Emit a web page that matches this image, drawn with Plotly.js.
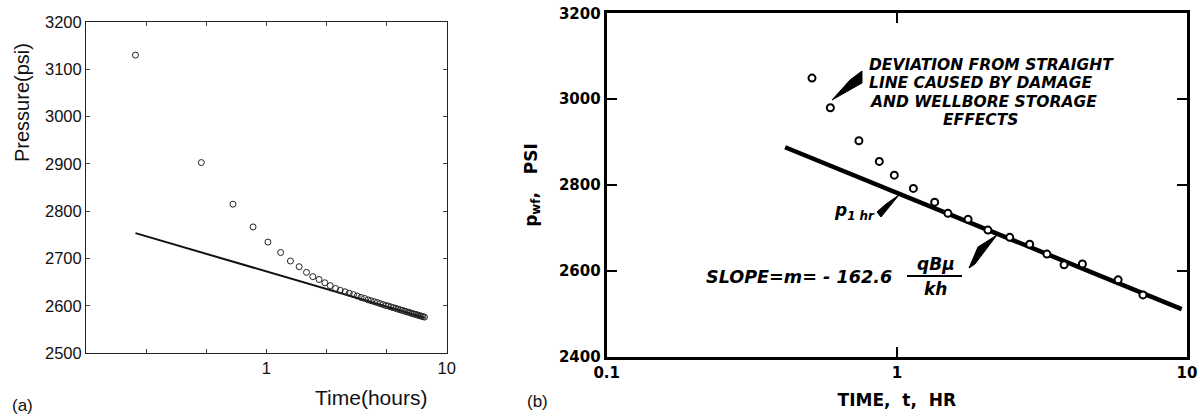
<!DOCTYPE html>
<html><head><meta charset="utf-8">
<script src="https://cdn.plot.ly/plotly-3.0.1.min.js"></script>
<style>html,body{margin:0;padding:0;background:#fff}#chart{width:1200px;height:420px}</style>
</head><body><div id="chart"></div>
<script>
// ---- Panel (a) data ----
const leftTime = [0.188, 0.436, 0.653, 0.844, 1.02, 1.2, 1.36, 1.52, 1.67, 1.81, 1.96, 2.11, 2.26, 2.42,
  2.57, 2.73, 2.88, 3.04, 3.19, 3.35, 3.5, 3.66, 3.81, 3.97, 4.12, 4.28, 4.43, 4.59, 4.74, 4.9,
  5.05, 5.21, 5.36, 5.52, 5.67, 5.83, 5.98, 6.14, 6.29, 6.45, 6.6, 6.76, 6.91, 7.07, 7.22, 7.38, 7.53];
const leftPressure = [3130, 2903, 2815, 2767, 2735, 2713, 2695, 2683, 2671, 2662, 2656, 2649, 2643, 2637,
  2633, 2630, 2627, 2624, 2621, 2618, 2616, 2613, 2611, 2609, 2607, 2605, 2603, 2601, 2600, 2598,
  2596.5, 2595, 2593.5, 2592, 2590.7, 2589.2, 2588, 2586.6, 2585.5, 2584, 2583, 2582, 2580.7, 2579.6, 2578.6, 2577.4, 2576.5];
const leftLineTime = [0.188, 7.55];
const leftLinePressure = [2754, 2575];
const leftXTickVals = [1, 10];
const leftXTickText = ['1', '10'];
const leftXMinorTickVals = [0.1, 0.2154, 0.4642, 2.154, 4.642];
const leftYTickVals = [2500, 2600, 2700, 2800, 2900, 3000, 3100, 3200];

// ---- Panel (b) data ----
const rightTime = [0.51, 0.59, 0.74, 0.87, 0.98, 1.14, 1.35, 1.50, 1.76, 2.06, 2.45, 2.87, 3.29, 3.77, 4.36, 5.79, 7.05];
const rightPressure = [3049, 2980, 2903, 2855, 2823, 2792, 2760, 2734, 2720, 2695, 2678, 2662, 2639, 2614, 2616, 2579, 2544];
const rightLineTime = [0.412, 9.59];
const rightLinePressure = [2888, 2511];
const rightXTickVals = [0.1, 1, 10];
const rightXTickText = ['0.1', '1', '10'];
const rightYTickVals = [2400, 2600, 2800, 3000, 3200];

const W = 1200, H = 420;
const px = x => x / W;
const py = y => 1 - y / H;
const pathOf = pts => 'M ' + pts.map(p => px(p[0]).toFixed(5) + ',' + py(p[1]).toFixed(5)).join(' L ') + ' Z';

const LF = 'Liberation Sans, Arial, sans-serif';
const RF = 'DejaVu Sans, sans-serif';

const traces = [
  {x: leftLineTime, y: leftLinePressure, xaxis: 'x', yaxis: 'y', mode: 'lines',
   line: {color: '#111', width: 2}, hoverinfo: 'skip', showlegend: false},
  {x: leftTime, y: leftPressure, xaxis: 'x', yaxis: 'y', mode: 'markers',
   marker: {symbol: 'circle-open', size: 6, color: '#222', line: {width: 1, color: '#222'}}, showlegend: false},
  {x: rightLineTime, y: rightLinePressure, xaxis: 'x2', yaxis: 'y2', mode: 'lines',
   line: {color: '#000', width: 4.5}, hoverinfo: 'skip', showlegend: false},
  {x: rightTime, y: rightPressure, xaxis: 'x2', yaxis: 'y2', mode: 'markers',
   marker: {symbol: 'circle', size: 7, color: '#fff', line: {width: 2, color: '#000'}}, showlegend: false}
];

const ann = (text, x, y, opts) => Object.assign({text, x: px(x), y: py(y), xref: 'paper', yref: 'paper',
  showarrow: false, xanchor: 'center', yanchor: 'middle'}, opts || {});
const boldItal = (size) => ({family: RF, size, color: '#000', weight: 'bold', style: 'italic'});
const capLine = (text, x, y, anchor) => ann(text, x, y, {xanchor: anchor, borderpad: 0, font: boldItal(15.5)});

const layout = {
  width: W, height: H,
  margin: {l: 0, r: 0, t: 0, b: 0},
  paper_bgcolor: '#fff', plot_bgcolor: '#fff',
  font: {family: LF, color: '#111'},
  showlegend: false,
  xaxis: {
    domain: [px(86), px(446.7)], anchor: 'y', type: 'log', range: [-1, 1],
    tickmode: 'array', tickvals: leftXTickVals, ticktext: leftXTickText,
    ticks: 'inside', ticklen: 4, tickwidth: 1, tickcolor: '#444',
    minor: {tickmode: 'array', tickvals: leftXMinorTickVals, ticks: 'inside', ticklen: 4, tickwidth: 1, tickcolor: '#444', showgrid: false},
    mirror: 'ticks', showline: true, linecolor: '#222', linewidth: 1,
    showgrid: false, zeroline: false, tickfont: {family: LF, size: 16.5, color: '#111'}
  },
  yaxis: {
    domain: [py(353.3), py(22)], anchor: 'x', range: [2500, 3200],
    tickmode: 'array', tickvals: leftYTickVals,
    ticks: 'inside', ticklen: 4, tickwidth: 1, tickcolor: '#444',
    mirror: 'ticks', showline: true, linecolor: '#222', linewidth: 1,
    showgrid: false, zeroline: false, tickfont: {family: LF, size: 16.5, color: '#111'}
  },
  xaxis2: {
    domain: [px(606.7), px(1187)], anchor: 'y2', type: 'log', range: [-1, 1],
    tickmode: 'array', tickvals: rightXTickVals, ticktext: rightXTickText,
    ticks: 'inside', ticklen: 10, tickwidth: 2, tickcolor: '#000',
    mirror: 'ticks', showline: true, linecolor: '#000', linewidth: 3,
    showgrid: false, zeroline: false,
    tickfont: {family: RF, size: 15, color: '#000', weight: 'bold'},
    title: {text: 'TIME,  t,  HR', standoff: 14, font: {family: RF, size: 17, color: '#000', weight: 'bold'}}
  },
  yaxis2: {
    domain: [py(356.7), py(13.3)], anchor: 'x2', range: [2400, 3200],
    tickmode: 'array', tickvals: rightYTickVals,
    ticks: 'inside', ticklen: 10, tickwidth: 2, tickcolor: '#000',
    mirror: 'ticks', showline: true, linecolor: '#000', linewidth: 3,
    showgrid: false, zeroline: false,
    tickfont: {family: RF, size: 15, color: '#000', weight: 'bold'},
    title: {text: 'p<sub>wf</sub>,   PSI', standoff: 18, font: {family: RF, size: 17, color: '#000', weight: 'bold'}}
  },
  annotations: [
    ann('Pressure(psi)', 22, 103, {textangle: -90, font: {family: LF, size: 20, color: '#111'}}),
    ann('Time(hours)', 371, 397, {font: {family: LF, size: 21, color: '#111'}}),
    ann('(a)', 22, 405, {font: {family: LF, size: 17, color: '#111'}}),
    ann('(b)', 537, 401, {font: {family: LF, size: 17, color: '#111'}}),
    capLine('DEVIATION FROM STRAIGHT', 868, 65, 'left'),
    capLine('LINE CAUSED BY DAMAGE', 868, 83.3, 'left'),
    capLine('AND WELLBORE STORAGE', 869, 101.6, 'left'),
    capLine('EFFECTS', 980, 119.9, 'center'),
    ann('p<sub>1 hr</sub>', 877, 211, {xanchor: 'right', font: boldItal(17)}),
    ann('SLOPE=m= - 162.6', 704, 277, {xanchor: 'left', font: boldItal(17.6)}),
    ann('qBμ', 936, 264, {font: boldItal(17)}),
    ann('kh', 935, 289, {font: boldItal(17)})
  ],
  shapes: [
    {type: 'path', xref: 'paper', yref: 'paper', path: pathOf([[832, 100], [850, 80], [862, 71], [862, 83]]),
     fillcolor: '#000', line: {color: '#000', width: 1}},
    {type: 'path', xref: 'paper', yref: 'paper', path: pathOf([[899, 195], [886, 204], [877, 212], [881, 217]]),
     fillcolor: '#000', line: {color: '#000', width: 1}},
    {type: 'path', xref: 'paper', yref: 'paper', path: pathOf([[997, 235], [978, 247], [969, 268], [975, 264]]),
     fillcolor: '#000', line: {color: '#000', width: 1}},
    {type: 'line', xref: 'paper', yref: 'paper', x0: px(907), x1: px(962), y0: py(276), y1: py(276),
     line: {color: '#000', width: 2}}
  ]
};

Plotly.newPlot('chart', traces, layout, {displayModeBar: false, staticPlot: true});
</script>
</body></html>
